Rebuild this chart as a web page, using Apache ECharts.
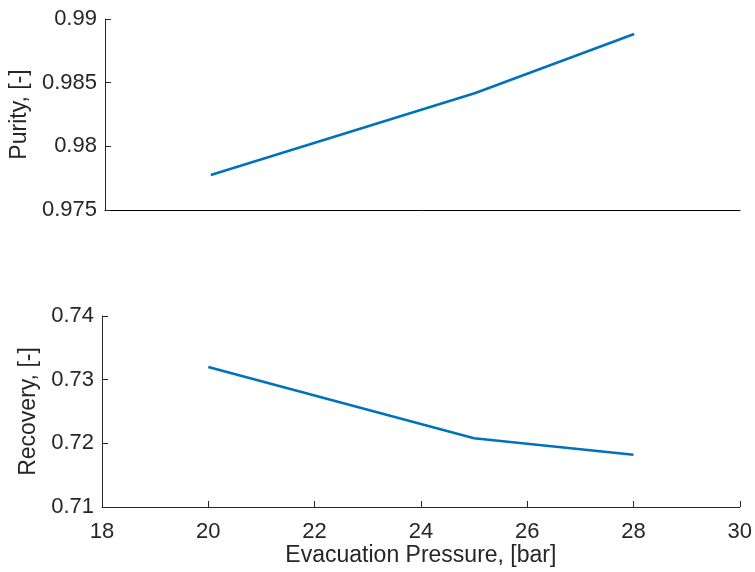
<!DOCTYPE html>
<html>
<head>
<meta charset="utf-8">
<script src="https://cdn.jsdelivr.net/npm/echarts@6/dist/echarts.min.js"></script>
<style>
  html, body { margin: 0; padding: 0; background: #fff; }
  #chart { width: 755px; height: 572px; }
</style>
</head>
<body>
<div id="chart"></div>
<script>
// Evacuation pressure sweep, bar
var pressure = [20, 25, 28];
// Product purity, fraction
var purity = [0.97775, 0.98419, 0.98882];
// Product recovery, fraction
var recovery = [0.7320, 0.7208, 0.7182];

var xTicks = { min: 18, max: 30, interval: 2 };
var purityTicks = { min: 0.975, max: 0.99, interval: 0.005 };
var recoveryTicks = { min: 0.71, max: 0.74, interval: 0.01 };

var FONT = 'Liberation Sans, Arial, Helvetica, sans-serif';
var AXIS_COLOR = '#262626';
var LINE_COLOR = '#0072BD';
var TICK_FONT = 22;
var NAME_FONT = 23;

function fmt(v) { return String(parseFloat(v.toFixed(4))); }

function pairs(xs, ys) {
  return xs.map(function (x, i) { return [x, ys[i]]; });
}

var chart = echarts.init(document.getElementById('chart'), null, { renderer: 'canvas' });

chart.setOption({
  animation: false,
  backgroundColor: '#ffffff',
  grid: [
    { left: 102, right: 15, top: 19, height: 191 },
    { left: 102, right: 15, top: 316, height: 191 }
  ],
  xAxis: [
    {
      gridIndex: 0, type: 'value',
      min: xTicks.min, max: xTicks.max, interval: xTicks.interval,
      axisLine: { show: true, onZero: false, lineStyle: { color: '#000000', width: 1 } },
      axisTick: { show: false },
      axisLabel: { show: false },
      splitLine: { show: false }
    },
    {
      gridIndex: 1, type: 'value',
      min: xTicks.min, max: xTicks.max, interval: xTicks.interval,
      name: 'Evacuation Pressure, [bar]',
      nameLocation: 'middle', nameGap: 33,
      nameTextStyle: { fontFamily: FONT, fontSize: NAME_FONT, color: AXIS_COLOR },
      axisLine: { show: true, onZero: false, lineStyle: { color: AXIS_COLOR, width: 1 } },
      axisTick: { show: true, inside: true, length: 6, lineStyle: { color: AXIS_COLOR } },
      axisLabel: { fontFamily: FONT, fontSize: TICK_FONT, color: AXIS_COLOR, margin: 14 },
      splitLine: { show: false }
    }
  ],
  yAxis: [
    {
      gridIndex: 0, type: 'value',
      min: purityTicks.min, max: purityTicks.max, interval: purityTicks.interval,
      name: 'Purity, [-]',
      nameLocation: 'middle', nameGap: 66,
      nameTextStyle: { fontFamily: FONT, fontSize: NAME_FONT, color: AXIS_COLOR },
      axisLine: { show: true, lineStyle: { color: AXIS_COLOR, width: 1 } },
      axisTick: { show: true, inside: true, length: 6, lineStyle: { color: AXIS_COLOR } },
      axisLabel: { fontFamily: FONT, fontSize: TICK_FONT, color: AXIS_COLOR, margin: 8, formatter: fmt },
      splitLine: { show: false }
    },
    {
      gridIndex: 1, type: 'value',
      min: recoveryTicks.min, max: recoveryTicks.max, interval: recoveryTicks.interval,
      name: 'Recovery, [-]',
      nameLocation: 'middle', nameGap: 54,
      nameTextStyle: { fontFamily: FONT, fontSize: NAME_FONT, color: AXIS_COLOR },
      axisLine: { show: true, lineStyle: { color: AXIS_COLOR, width: 1 } },
      axisTick: { show: true, inside: true, length: 6, lineStyle: { color: AXIS_COLOR } },
      axisLabel: { fontFamily: FONT, fontSize: TICK_FONT, color: AXIS_COLOR, margin: 8, formatter: fmt },
      splitLine: { show: false }
    }
  ],
  series: [
    {
      type: 'line', xAxisIndex: 0, yAxisIndex: 0,
      data: pairs(pressure, purity),
      showSymbol: false, symbol: 'none',
      lineStyle: { color: LINE_COLOR, width: 2.5 }
    },
    {
      type: 'line', xAxisIndex: 1, yAxisIndex: 1,
      data: pairs(pressure, recovery),
      showSymbol: false, symbol: 'none',
      lineStyle: { color: LINE_COLOR, width: 2.5 }
    }
  ]
});
</script>
</body>
</html>
